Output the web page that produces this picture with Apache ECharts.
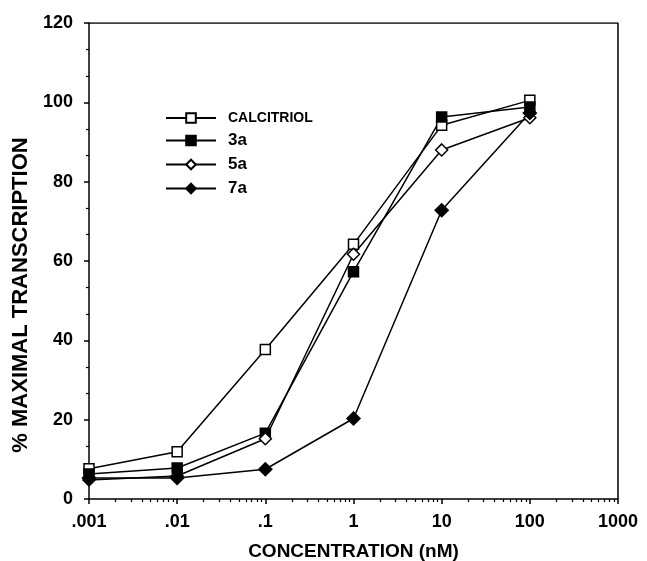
<!DOCTYPE html>
<html>
<head>
<meta charset="utf-8">
<script src="https://cdn.jsdelivr.net/npm/echarts@6/dist/echarts.min.js"></script>
<style>
  html, body { margin: 0; padding: 0; background: #fff; }
  #chart { width: 647px; height: 561px; }
</style>
</head>
<body>
<div id="chart"></div>
<script>
// concentrations (nM)
var concList = [0.001, 0.01, 0.1, 1, 10, 100]
var calcitriol = [7.6, 11.9, 37.7, 64.2, 94.2, 100.5]
var s3a = [6.3, 7.8, 16.6, 57.3, 96.3, 98.8]
var s5a = [4.8, 5.8, 15.2, 61.7, 88, 96.1]
var s7a = [5.3, 5.3, 7.5, 20.3, 72.8, 97.3]
var majorTicks = [0.001, 0.01, 0.1, 1, 10, 100, 1000]
var xTickLabels = ['.001', '.01', '.1', '1', '10', '100', '1000']

// log minor ticks 2..9 in each decade
var minorTicks = []
for (var d = 0; d < majorTicks.length - 1; d++) {
  for (var k = 2; k <= 9; k++) {
    minorTicks.push(Number((majorTicks[d] * k).toPrecision(3)))
  }
}

function pairs(vals) {
  var out = []
  for (var i = 0; i < concList.length; i++) {
    out.push([concList[i], vals[i]])
  }
  return out
}

var font = 'Liberation Sans, Arial, sans-serif'

function makeSeries(name, vals, symbol, size, fill) {
  return {
    name: name,
    type: 'line',
    xAxisIndex: 0,
    data: pairs(vals),
    symbol: symbol,
    symbolSize: size,
    showAllSymbol: true,
    lineStyle: { color: '#000', width: 1.5 },
    itemStyle: { color: fill, borderColor: '#000', borderWidth: 1.5 },
    emphasis: { disabled: true }
  }
}

var chart = echarts.init(document.getElementById('chart'))

var option = {
  backgroundColor: '#fff',
  animation: false,
  grid: { left: 89, right: 29, top: 23, bottom: 62, containLabel: false, outerBoundsMode: 'none' },
  legend: {
    orient: 'vertical',
    left: 160,
    top: 106,
    itemWidth: 50,
    itemHeight: 12,
    itemGap: 7,
    textStyle: {
      fontFamily: font,
      fontWeight: 'bold',
      color: '#000',
      fontSize: 17,
      padding: [0, 0, 0, 7],
      rich: {
        small: { fontSize: 14, fontWeight: 'bold', fontFamily: font, color: '#000' }
      }
    },
    formatter: function (name) {
      return name === 'CALCITRIOL' ? '{small|' + name + '}' : name
    },
    data: ['CALCITRIOL', '3a', '5a', '7a']
  },
  xAxis: [
    {
      type: 'log',
      logBase: 10,
      min: 0.001,
      max: 1000,
      name: 'CONCENTRATION (nM)',
      nameLocation: 'middle',
      nameGap: 43,
      nameTextStyle: { fontFamily: font, fontWeight: 'bold', fontSize: 19, color: '#000' },
      axisLine: { lineStyle: { color: '#000', width: 1.5 } },
      axisTick: { length: 5, customValues: majorTicks, lineStyle: { color: '#000', width: 1.5 } },
      axisLabel: {
        fontFamily: font, fontWeight: 'bold', fontSize: 18, color: '#000', margin: 14,
        customValues: majorTicks,
        formatter: function (v) {
          var i = majorTicks.indexOf(Number(v.toPrecision(3)))
          return i >= 0 ? xTickLabels[i] : ''
        }
      },
      splitLine: { show: false }
    },
    {
      // minor log ticks only
      type: 'log',
      logBase: 10,
      min: 0.001,
      max: 1000,
      position: 'bottom',
      gridIndex: 0,
      axisLine: { show: false },
      axisTick: { length: 3, customValues: minorTicks, lineStyle: { color: '#000', width: 1.2 } },
      axisLabel: { show: false },
      splitLine: { show: false }
    }
  ],
  yAxis: {
    type: 'value',
    min: 0,
    max: 120,
    interval: 20,
    name: '% MAXIMAL TRANSCRIPTION',
    nameLocation: 'middle',
    nameGap: 56,
    nameTextStyle: { fontFamily: font, fontWeight: 'bold', fontSize: 22, color: '#000', padding: [0, 68, 0, 0] },
    axisLine: { show: true, lineStyle: { color: '#000', width: 1.5 } },
    axisTick: { show: true, length: 5, lineStyle: { color: '#000', width: 1.5 } },
    minorTick: { show: true, splitNumber: 3, length: 3, lineStyle: { color: '#000', width: 1.2 } },
    axisLabel: { fontFamily: font, fontWeight: 'bold', fontSize: 18, color: '#000', margin: 16 },
    splitLine: { show: false }
  },
  series: [
    makeSeries('CALCITRIOL', calcitriol, 'rect', 10, '#fff'),
    makeSeries('3a', s3a, 'rect', 10, '#000'),
    makeSeries('5a', s5a, 'diamond', 12, '#fff'),
    makeSeries('7a', s7a, 'diamond', 13, '#000'),
    {
      // top and right frame
      type: 'line',
      data: [[0.001, 120], [1000, 120], [1000, 0]],
      symbol: 'none',
      lineStyle: { color: '#000', width: 1.5 },
      silent: true,
      z: 1
    }
  ]
}

chart.setOption(option)
</script>
</body>
</html>
